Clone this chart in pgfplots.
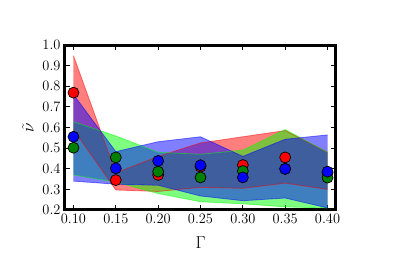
\documentclass[border=0pt]{standalone}
\usepackage{pgfplots}
\usepackage{pgfplotstable}
\pgfplotsset{compat=1.18}
\usepgfplotslibrary{fillbetween}

\pgfplotstableread{
x    m      lo     hi
0.10 0.769  0.59   0.948
0.15 0.345  0.297  0.38
0.20 0.370  0.29   0.46
0.25 0.41   0.31   0.525
0.30 0.418  0.305  0.555
0.35 0.455  0.33   0.585
0.40 0.38   0.30   0.48
}\tabred
\pgfplotstableread{
x    m      lo     hi
0.10 0.502  0.37   0.628
0.15 0.455  0.335  0.559
0.20 0.386  0.28   0.48
0.25 0.358  0.24   0.47
0.30 0.389  0.23   0.49
0.35 0.40   0.215  0.59
0.40 0.357  0.21   0.48
}\tabgreen
\pgfplotstableread{
x    m      lo     hi
0.10 0.555  0.34   0.76
0.15 0.402  0.325  0.483
0.20 0.438  0.32   0.531
0.25 0.417  0.268  0.555
0.30 0.358  0.245  0.46
0.35 0.399  0.258  0.543
0.40 0.386  0.21   0.564
}\tabblue

\definecolor{dgreen}{rgb}{0,0.5,0}
\definecolor{lgreen}{rgb}{0,1,0}

\begin{document}
\begin{tikzpicture}
\begin{axis}[
  at={(0pt,0pt)}, anchor=south west,
  scale only axis, width=271pt, height=165pt,
  xmin=0.09, xmax=0.41, ymin=0.2, ymax=1.0,
  xtick={0.10,0.15,0.20,0.25,0.30,0.35,0.40},
  ytick={0.2,0.3,0.4,0.5,0.6,0.7,0.8,0.9,1.0},
  x tick label style={/pgf/number format/fixed, /pgf/number format/fixed zerofill, /pgf/number format/precision=2, yshift=-1pt},
  y tick label style={/pgf/number format/fixed, /pgf/number format/fixed zerofill, /pgf/number format/precision=1, xshift=-1pt},
  tick label style={font=\fontsize{13.5}{15}\selectfont},
  label style={font=\fontsize{16}{18}\selectfont},
  axis line style={line width=3pt},
  major tick length=5pt,
  tick style={black, line width=0.8pt},
  tick align=inside,
  xlabel={$\Gamma$},
  ylabel={$\tilde{\nu}$},
  xlabel style={at={(axis description cs:0.5,-0.2)}, anchor=center},
  ylabel style={at={(axis description cs:-0.1365,0.5)}, anchor=center},
]
% red band
\addplot[name path=rh, red, opacity=0.5, line width=0.8pt] table[x=x,y=hi]{\tabred};
\addplot[name path=rl, red, opacity=0.5, line width=0.8pt] table[x=x,y=lo]{\tabred};
\addplot[red, fill opacity=0.5, draw=none] fill between[of=rh and rl];
% green band
\addplot[name path=gh, lgreen, opacity=0.5, line width=0.8pt] table[x=x,y=hi]{\tabgreen};
\addplot[name path=gl, lgreen, opacity=0.5, line width=0.8pt] table[x=x,y=lo]{\tabgreen};
\addplot[lgreen, fill opacity=0.5, draw=none] fill between[of=gh and gl];
% blue band
\addplot[name path=bh, blue, opacity=0.5, line width=0.8pt] table[x=x,y=hi]{\tabblue};
\addplot[name path=bl, blue, opacity=0.5, line width=0.8pt] table[x=x,y=lo]{\tabblue};
\addplot[blue, fill opacity=0.5, draw=none] fill between[of=bh and bl];
% points
\addplot[only marks, mark=*, mark size=5.5pt, mark options={fill=red, draw=black, line width=0.7pt}, clip=false] table[x=x,y=m]{\tabred};
\addplot[only marks, mark=*, mark size=5.5pt, mark options={fill=dgreen, draw=black, line width=0.7pt}] table[x=x,y=m]{\tabgreen};
\addplot[only marks, mark=*, mark size=5.5pt, mark options={fill=blue, draw=black, line width=0.7pt}] table[x=x,y=m]{\tabblue};
\end{axis}
\path (-65pt,-46pt) rectangle (350pt,210pt);
\end{tikzpicture}
\end{document}
